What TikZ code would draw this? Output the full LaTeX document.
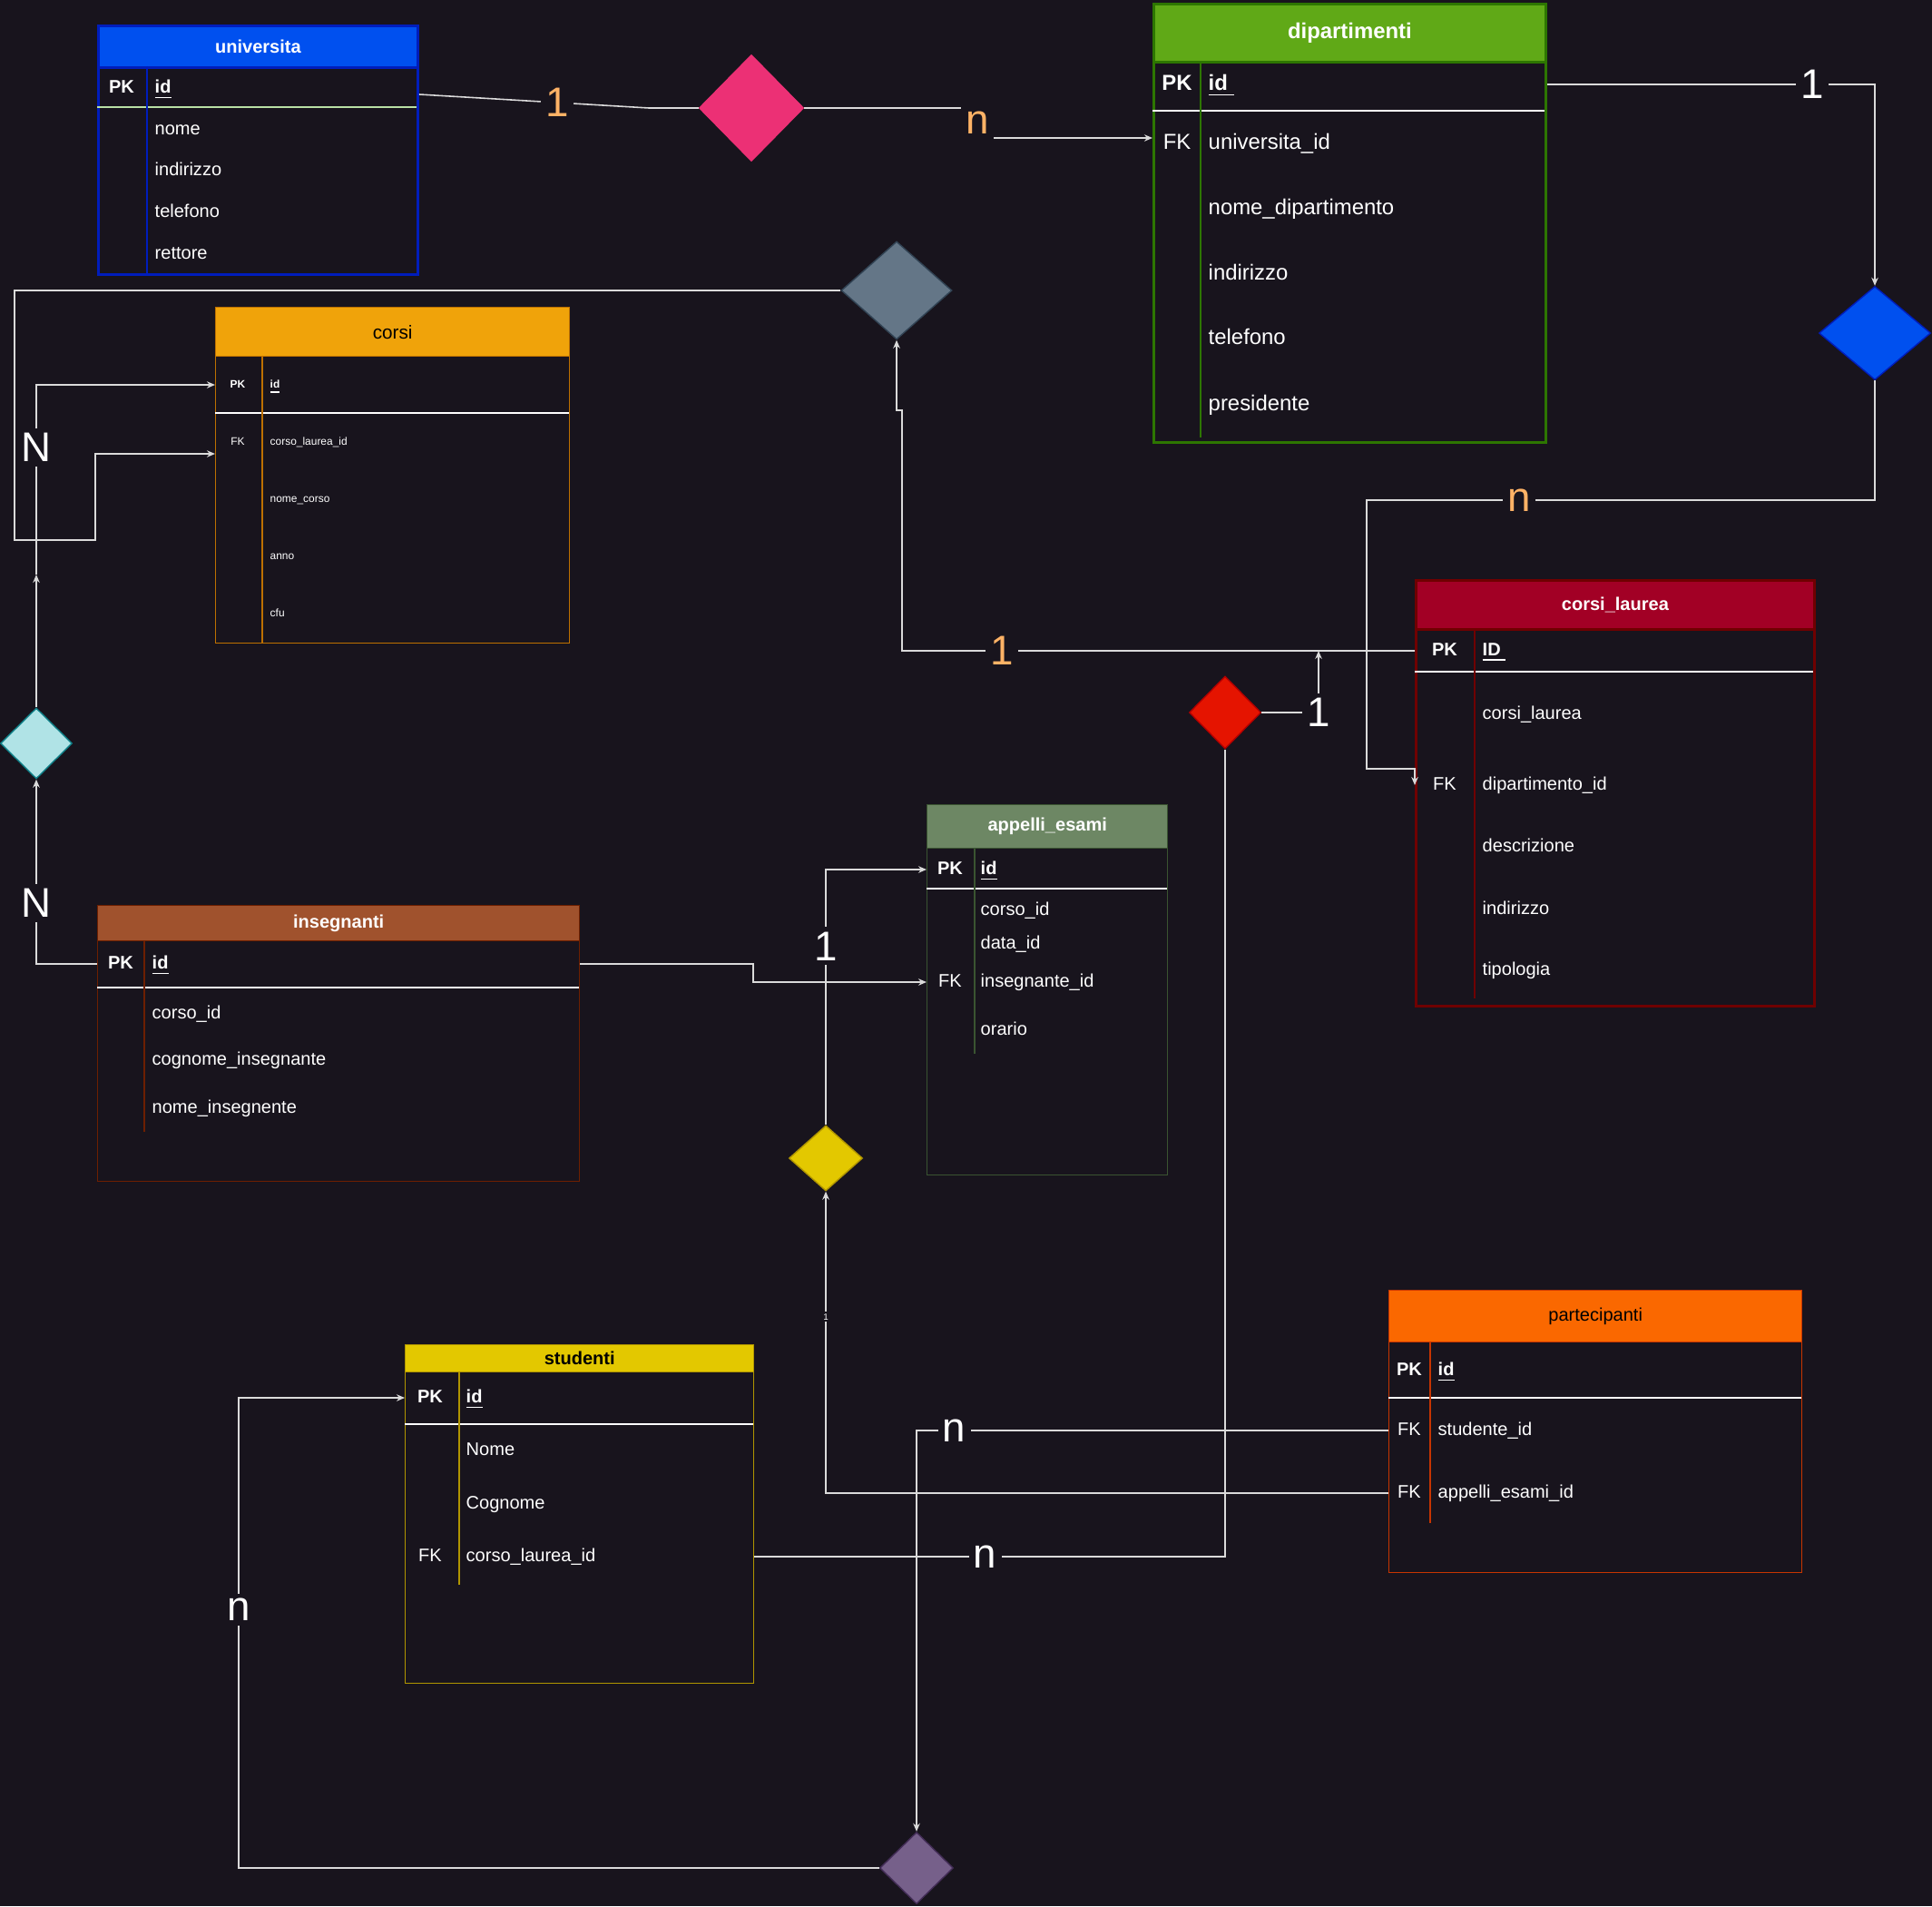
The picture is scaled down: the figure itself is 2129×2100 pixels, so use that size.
\documentclass[tikz,border=0pt]{standalone}
\usepackage{fontspec}
\setmainfont{Liberation Sans}
\usetikzlibrary{shapes.geometric,arrows.meta}

\definecolor{bgdark}{RGB}{24,20,29}
\definecolor{lbl}{RGB}{255,179,102}
\definecolor{wire}{RGB}{218,218,218}
\definecolor{uniF}{HTML}{0050EF}
\definecolor{uniD}{HTML}{001DBC}
\definecolor{uniS}{HTML}{B9E0A5}
\definecolor{dipF}{HTML}{60A917}
\definecolor{dipD}{HTML}{2D7600}
\definecolor{corF}{HTML}{F0A30A}
\definecolor{corD}{HTML}{BD7000}
\definecolor{claF}{HTML}{A20025}
\definecolor{claD}{HTML}{6F0000}
\definecolor{appF}{HTML}{6D8764}
\definecolor{appD}{HTML}{3A5431}
\definecolor{insF}{HTML}{A0522D}
\definecolor{insD}{HTML}{6D1F00}
\definecolor{stuF}{HTML}{E3C800}
\definecolor{stuD}{HTML}{B09500}
\definecolor{parF}{HTML}{FA6800}
\definecolor{parD}{HTML}{C73500}
\definecolor{pinkF}{RGB}{236,48,117}
\definecolor{grayF}{HTML}{647687}
\definecolor{grayD}{HTML}{314354}
\definecolor{redF}{HTML}{E51400}
\definecolor{redD}{HTML}{B20000}
\definecolor{cyanF}{HTML}{B0E3E6}
\definecolor{cyanD}{HTML}{0E8088}
\definecolor{purF}{HTML}{76608A}
\definecolor{purD}{HTML}{432D57}

\tikzset{
  tblbox/.style={draw, anchor=north west, inner sep=0pt, line width=0.4pt},
  tblhead/.style={draw, anchor=north west, inner sep=0pt, text=white},
  pkcell/.style={text=white, inner sep=0pt},
  fld/.style={pkcell, anchor=west},
  f20/.style={font=\fontsize{5.7}{6}\selectfont, text height=4.1pt, text depth=1.1pt},
  f24/.style={font=\fontsize{6.8}{7}\selectfont, text height=4.9pt, text depth=1.3pt},
  f12/.style={font=\fontsize{3.4}{4}\selectfont, text height=2.45pt, text depth=0.65pt},
  rel/.style={diamond, inner sep=0pt, line width=0.4pt},
  conn/.style={draw=wire, line width=0.45pt},
  card/.style={fill=bgdark, inner sep=1.5pt, text=white, font=\fontsize{13}{13}\selectfont},
}

\begin{document}
\begin{tikzpicture}[x=0.1mm, y=-0.1mm, >={Stealth[length=0.9mm,width=0.75mm]}]
      % background and page size
      \fill[bgdark] (0,0) rectangle (2129,2100);
      \useasboundingbox (0,0) rectangle (2129,2100);

      % table universita
      \node[tblbox, draw=uniD, line width=0.8pt, minimum width=35.2mm, minimum height=27.4mm] (uni) at (107,27) {};
      \node[tblhead, fill=uniF, draw=uniD, line width=0.8pt, minimum width=35.2mm, minimum height=4.6mm, font=\bfseries\fontsize{5.7}{6}\selectfont] (uni-h) at (107,27) {universita};
      \draw[uniS, line width=0.85pt] (107,118) -- (459,118);
      \draw[uniD, line width=0.6pt] (162,73) -- (162,301);
      \node[pkcell, f20] (uni-pk) at (134,97) {\bfseries PK};
      \node[fld, f20] (uni-id) at (170,97) {\bfseries\underline{id}};
      \node[fld, f20] (uni-nome) at (170,143) {nome};
      \node[fld, f20] (uni-ind) at (170,188) {indirizzo};
      \node[fld, f20] (uni-tel) at (170,234) {telefono};
      \node[fld, f20] (uni-ret) at (170,280) {rettore};

      % table dipartimenti
      \node[tblbox, draw=dipD, line width=0.8pt, minimum width=43.2mm, minimum height=48.3mm] (dip) at (1270,3) {};
      \node[tblhead, fill=dipF, draw=dipD, line width=0.8pt, minimum width=43.2mm, minimum height=6.4mm, font=\bfseries\fontsize{6.8}{7}\selectfont] (dip-h) at (1270,3) {dipartimenti};
      \draw[white, line width=0.4pt] (1270,122) -- (1702,122);
      \draw[dipD, line width=0.8pt] (1323,67) -- (1323,482);
      \node[pkcell, f24] (dip-pk) at (1297,93) {\bfseries PK};
      \node[fld, f24] (dip-id) at (1331,93) {\bfseries\underline{id\ }};
      \node[pkcell, f24] (dip-fkk) at (1297,158) {FK};
      \node[fld, f24] (dip-fk) at (1331,158) {universita\_id};
      \node[fld, f24] (dip-nome) at (1331,230) {nome\_dipartimento};
      \node[fld, f24] (dip-ind) at (1331,302) {indirizzo};
      \node[fld, f24] (dip-tel) at (1331,373) {telefono};
      \node[fld, f24] (dip-pre) at (1331,446) {presidente};

      % table corsi
      \node[tblbox, draw=corD] (corsi) at (237,338) [minimum width=39mm, minimum height=37mm] {};
      \node[tblhead, fill=corF, draw=corD, minimum width=39mm, minimum height=5.4mm, text=black, font=\fontsize{5.9}{6}\selectfont] (corsi-h) at (237,338) {corsi};
      \draw[white, line width=0.4pt] (237,455) -- (627,455);
      \draw[corD, line width=0.4pt] (289,392) -- (289,708);
      \node[pkcell, f12] (corsi-pk) at (262,424) {\bfseries PK};
      \node[fld, f12] (corsi-id) at (297,424) {\bfseries\underline{id}};
      \node[pkcell, f12] (corsi-fkk) at (262,487) {FK};
      \node[fld, f12] (corsi-fk) at (297,487) {corso\_laurea\_id};
      \node[fld, f12] (corsi-nome) at (297,550) {nome\_corso};
      \node[fld, f12] (corsi-anno) at (297,613) {anno};
      \node[fld, f12] (corsi-cfu) at (297,676) {cfu};

      % table corsi_laurea
      \node[tblbox, draw=claD, line width=0.8pt, minimum width=43.9mm, minimum height=46.9mm] (cl) at (1559,638) {};
      \node[tblhead, fill=claF, draw=claD, line width=0.8pt, minimum width=43.9mm, minimum height=5.4mm, font=\bfseries\fontsize{5.7}{6}\selectfont] (cl-h) at (1559,638) {corsi\_laurea};
      \draw[white, line width=0.4pt] (1559,740) -- (1998,740);
      \draw[claD, line width=0.6pt] (1625,692) -- (1625,1100);
      \node[pkcell, f20] (cl-pk) at (1592,717) {\bfseries PK};
      \node[fld, f20] (cl-id) at (1633,717) {\bfseries\underline{ID\ }};
      \node[fld, f20] (cl-nome) at (1633,787) {corsi\_laurea};
      \node[pkcell, f20] (cl-fkk) at (1592,865) {FK};
      \node[fld, f20] (cl-fk) at (1633,865) {dipartimento\_id};
      \node[fld, f20] (cl-des) at (1633,933) {descrizione};
      \node[fld, f20] (cl-ind) at (1633,1002) {indirizzo};
      \node[fld, f20] (cl-tip) at (1633,1069) {tipologia};

      % table appelli_esami
      \node[tblbox, draw=appD, minimum width=26.5mm, minimum height=40.8mm] (app) at (1021,886) {};
      \node[tblhead, fill=appF, draw=appD, minimum width=26.5mm, minimum height=4.8mm, font=\bfseries\fontsize{5.7}{6}\selectfont] (app-h) at (1021,886) {appelli\_esami};
      \draw[white, line width=0.4pt] (1021,979) -- (1286,979);
      \draw[appD, line width=0.4pt] (1074,934) -- (1074,1161);
      \node[pkcell, f20] (app-pk) at (1047,958) {\bfseries PK};
      \node[fld, f20] (app-id) at (1080,958) {\bfseries\underline{id}};
      \node[fld, f20] (app-corso) at (1080,1003) {corso\_id};
      \node[fld, f20] (app-data) at (1080,1040) {data\_id};
      \node[pkcell, f20] (app-fkk) at (1047,1082) {FK};
      \node[fld, f20] (app-fk) at (1080,1082) {insegnante\_id};
      \node[fld, f20] (app-ora) at (1080,1135) {orario};

      % table insegnanti
      \node[tblbox, draw=insD, minimum width=53.1mm, minimum height=30.4mm] (ins) at (107,997) {};
      \node[tblhead, fill=insF, draw=insD, minimum width=53.1mm, minimum height=3.9mm, font=\bfseries\fontsize{5.7}{6}\selectfont] (ins-h) at (107,997) {insegnanti};
      \draw[white, line width=0.4pt] (107,1088) -- (638,1088);
      \draw[insD, line width=0.4pt] (159,1036) -- (159,1247);
      \node[pkcell, f20] (ins-pk) at (133,1062) {\bfseries PK};
      \node[fld, f20] (ins-id) at (167,1062) {\bfseries\underline{id}};
      \node[fld, f20] (ins-corso) at (167,1117) {corso\_id};
      \node[fld, f20] (ins-cog) at (167,1168) {cognome\_insegnante};
      \node[fld, f20] (ins-nome) at (167,1221) {nome\_insegnente};

      % table studenti
      \node[tblbox, draw=stuD, minimum width=38.4mm, minimum height=37.3mm] (stu) at (446,1481) {};
      \node[tblhead, fill=stuF, draw=stuD, minimum width=38.4mm, minimum height=3mm, text=black, font=\bfseries\fontsize{5.7}{6}\selectfont] (stu-h) at (446,1481) {studenti};
      \draw[white, line width=0.4pt] (446,1569) -- (830,1569);
      \draw[stuD, line width=0.4pt] (506,1511) -- (506,1746);
      \node[pkcell, f20] (stu-pk) at (474,1540) {\bfseries PK};
      \node[fld, f20] (stu-id) at (513,1540) {\bfseries\underline{id}};
      \node[fld, f20] (stu-nome) at (513,1598) {Nome};
      \node[fld, f20] (stu-cog) at (513,1657) {Cognome};
      \node[pkcell, f20] (stu-fkk) at (474,1715) {FK};
      \node[fld, f20] (stu-fk) at (513,1715) {corso\_laurea\_id};

      % table partecipanti
      \node[tblbox, draw=parD, minimum width=45.5mm, minimum height=31.1mm] (par) at (1530,1421) {};
      \node[tblhead, fill=parF, draw=parD, minimum width=45.5mm, minimum height=5.7mm, text=black, font=\fontsize{5.7}{6}\selectfont] (par-h) at (1530,1421) {partecipanti};
      \draw[white, line width=0.4pt] (1530,1540) -- (1985,1540);
      \draw[parD, line width=0.4pt] (1576,1478) -- (1576,1678);
      \node[pkcell, f20] (par-pk) at (1553,1510) {\bfseries PK};
      \node[fld, f20] (par-id) at (1584,1510) {\bfseries\underline{id}};
      \node[pkcell, f20] (par-fk1) at (1553,1576) {FK};
      \node[fld, f20] (par-st) at (1584,1576) {studente\_id};
      \node[pkcell, f20] (par-fk2) at (1553,1645) {FK};
      \node[fld, f20] (par-ae) at (1584,1645) {appelli\_esami\_id};

      % relationships
      \node[rel, fill=pinkF, draw=pinkF, minimum width=11.5mm, minimum height=11.7mm] (r-ud) at (828,119) {};
      \node[rel, fill=grayF, draw=grayD, minimum width=12.2mm, minimum height=10.8mm] (r-ccl) at (988,320) {};
      \node[rel, fill=uniF, draw=uniD, minimum width=12.3mm, minimum height=10.3mm] (r-dcl) at (2066,367) {};
      \node[rel, fill=redF, draw=redD, minimum width=7.9mm, minimum height=8mm] (r-scl) at (1350,785) {};
      \node[rel, fill=cyanF, draw=cyanD, minimum width=7.9mm, minimum height=7.8mm] (r-ic) at (40,819) {};
      \node[rel, fill=stuF, draw=stuD, minimum width=8.1mm, minimum height=7.2mm] (r-ae) at (910,1276) {};
      \node[rel, fill=purF, draw=purD, minimum width=8.1mm, minimum height=7.9mm] (r-sp) at (1010,2058) {};

      % connectors
      \draw[conn] (uni.east |- 0,104) -- node[card, text=lbl, pos=0.6] {1} (715,119) -- (r-ud.west);
      \draw[conn, ->] (r-ud.east) -- (1077,119) -- node[card, text=lbl] {n} (1077,152) -- (dip.west |- 0,152);
      \draw[conn, ->] (dip.east |- dip-id) -- node[card, pos=0.81] {1} (r-dcl.north |- dip-id) -- (r-dcl.north);
      \draw[conn, ->] (r-dcl.south) -- (2066,551) -- node[card, text=lbl, pos=0.7] {n} (1506,551) -- (1506,847) -- (cl.west |- 0,847) -- (cl.west |- cl-fk);
      \draw[conn, ->] (cl.west |- cl-id) -- node[card, text=lbl, pos=0.805] {1} (994,717) -- (994,452) -- (988,452) -- (r-ccl.south);
      \coordinate (cl-join) at (1453,717);
      \draw[conn, ->] (r-scl.east) -- (cl-join |- r-scl) node[card] {1} -- (cl-join);
      \draw[conn] (stu.east |- stu-fk) -- node[card, pos=0.49] {n} (r-scl.south |- stu-fk) -- (r-scl.south);
      \draw[conn, ->] (r-ccl.west) -- (16,320) -- (16,595) -- (105,595) -- (105,500) -- (corsi.west |- 0,500);
      \coordinate (ic-up) at (40,633);
      \draw[conn, ->] (r-ic.north) -- (ic-up);
      \draw[conn, ->] (ic-up) -- node[card, pos=0.67] {N} (ic-up |- corsi-id) -- (corsi.west |- corsi-id);
      \draw[conn, ->] (ins.west |- ins-id) -- (r-ic.south |- ins-id) -- node[card, pos=0.33] {N} (r-ic.south);
      \draw[conn, ->] (ins.east |- ins-id) -- (830,1062) -- (830,1082) -- (app.west |- app-fk);
      \draw[conn, ->] (r-ae.north) -- node[card, pos=0.7] {1} (r-ae.north |- app-id) -- (app.west |- app-id);
      \draw[conn, ->] (par.west |- par-ae) -- (r-ae.south |- par-ae) -- node[card, inner sep=0.5pt, font=\fontsize{2.8}{3}\selectfont, pos=0.585] {1} (r-ae.south);
      \draw[conn, ->] (par.west |- par-st) -- node[card, pos=0.92] {n} (r-sp.north |- par-st) -- (r-sp.north);
      \draw[conn, ->] (r-sp.west) -- (263,2058) -- node[card, pos=0.55] {n} (263,1540) -- (stu.west |- stu-id);
    \end{tikzpicture}
\end{document}
